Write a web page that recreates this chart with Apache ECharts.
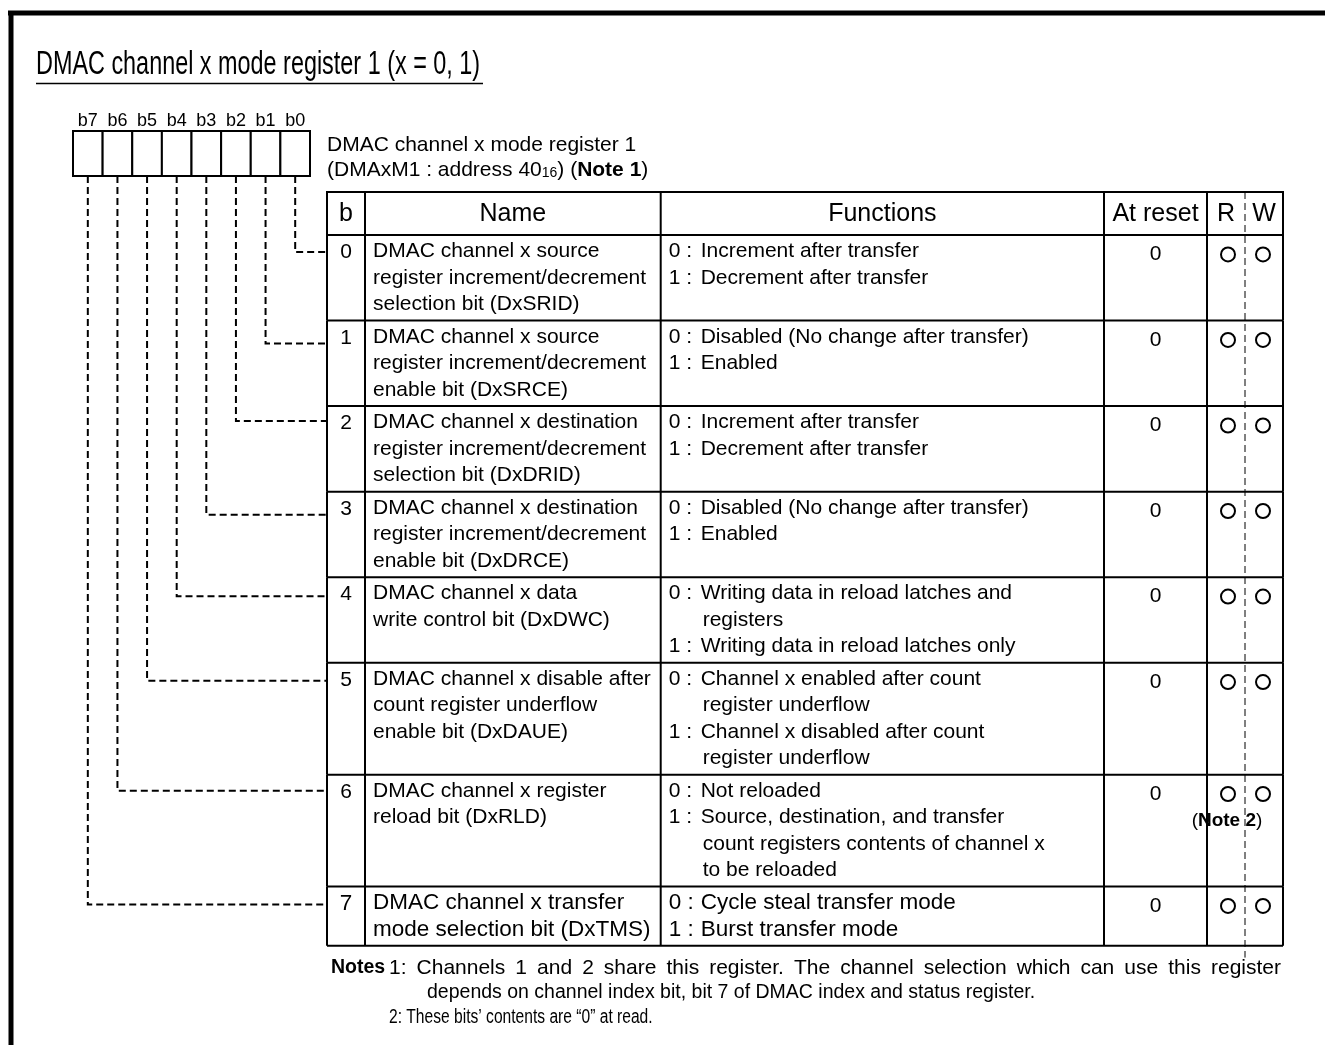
<!DOCTYPE html>
<html><head><meta charset="utf-8">
<script src="https://cdn.jsdelivr.net/npm/echarts@6/dist/echarts.min.js"></script>
<style>html,body{margin:0;padding:0;background:#fff}#c{width:1325px;height:1045px}</style>
</head><body><div id="c"></div>
<script>
// ---------------- data ----------------
const titleText = 'DMAC channel x mode register 1 (x = 0, 1)';
const captionLine1 = 'DMAC channel x mode register 1';
const captionLine2 = '(DMAxM1 : address 40{sub|16}) ({b|Note 1})';
const bitLabels = ['b7', 'b6', 'b5', 'b4', 'b3', 'b2', 'b1', 'b0'];
const headers = ['b', 'Name', 'Functions', 'At reset', 'R', 'W'];
const bitNumbers = [0, 1, 2, 3, 4, 5, 6, 7];
const names = [
  ['DMAC channel x source', 'register increment/decrement', 'selection bit (DxSRID)'],
  ['DMAC channel x source', 'register increment/decrement', 'enable bit (DxSRCE)'],
  ['DMAC channel x destination', 'register increment/decrement', 'selection bit (DxDRID)'],
  ['DMAC channel x destination', 'register increment/decrement', 'enable bit (DxDRCE)'],
  ['DMAC channel x data', 'write control bit (DxDWC)'],
  ['DMAC channel x disable after', 'count register underflow', 'enable bit (DxDAUE)'],
  ['DMAC channel x register', 'reload bit (DxRLD)'],
  ['DMAC channel x transfer', 'mode selection bit (DxTMS)']
];
const functions = [
  ['0 : Increment after transfer', '1 : Decrement after transfer'],
  ['0 : Disabled (No change after transfer)', '1 : Enabled'],
  ['0 : Increment after transfer', '1 : Decrement after transfer'],
  ['0 : Disabled (No change after transfer)', '1 : Enabled'],
  ['0 : Writing data in reload latches and', 'registers', '1 : Writing data in reload latches only'],
  ['0 : Channel x enabled after count', 'register underflow', '1 : Channel x disabled after count', 'register underflow'],
  ['0 : Not reloaded', '1 : Source, destination, and transfer', 'count registers contents of channel x', 'to be reloaded'],
  ['0 : Cycle steal transfer mode', '1 : Burst transfer mode']
];
const resetValues = ['0', '0', '0', '0', '0', '0', '0', '0'];
const readable = [true, true, true, true, true, true, true, true];
const writable = [true, true, true, true, true, true, true, true];
const rowNotes = ['', '', '', '', '', '', '({b|Note 2})', ''];
const noteLabel = 'Notes';
const noteLines = [
  '1: Channels 1 and 2 share this register. The channel selection which can use this register',
  'depends on channel index bit, bit 7 of DMAC index and status register.',
  '2: These bits\u2019 contents are \u201C0\u201D at read.'
];

// ---------------- layout / style ----------------
const FONT = '"Liberation Sans", Arial, sans-serif';
const LINE = 26.4;            // px per text line (one y unit of the table axis)
const ROW_PAD = 0.24;         // extra units per row
const HEADER_UNITS = 1.63;
const COLS = [0, 38, 333.7, 777, 880, 956];  // solid column edges (x units of table axis)
const RW_SPLIT = 918;
const BODY_SIZE = [21, 21, 21, 21, 21, 21, 21, 22.5];
const CONNECTOR_DROP = [17, 23, 15, 23, 19, 18, 16, 18]; // px below row top
const NOTE_FONT = '19.5px ' + FONT;

const rowLines = names.map((n, i) => Math.max(n.length, functions[i].length));
const rowSpan = rowLines.map(l => l + ROW_PAD);
const rowStart = [];
rowSpan.reduce((acc, s, i) => { rowStart[i] = acc; return acc + s; }, 0);
const totalUnits = rowSpan.reduce((a, b) => a + b, 0);

function txt(x, y, text, font, align, extra) {
  return Object.assign({
    type: 'text',
    style: { text: text, x: x, y: y, font: font, fill: '#000', textAlign: align || 'left', textVerticalAlign: 'middle' }
  }, extra || {});
}

function renderHeader(params, api) {
  const y0 = -HEADER_UNITS, y1 = 0, ym = (y0 + y1) / 2;
  const ch = [];
  const tl = api.coord([COLS[0], y0]), br = api.coord([COLS[COLS.length - 1], y1]);
  ch.push({ type: 'rect', shape: { x: tl[0], y: tl[1], width: br[0] - tl[0], height: br[1] - tl[1] }, style: { fill: null, stroke: '#000', lineWidth: 2 } });
  for (let c = 1; c < COLS.length - 1; c++) {
    const a = api.coord([COLS[c], y0]), b = api.coord([COLS[c], y1]);
    ch.push({ type: 'line', shape: { x1: a[0], y1: a[1], x2: b[0], y2: b[1] }, style: { stroke: '#000', lineWidth: 2 } });
  }
  const da = api.coord([RW_SPLIT, y0]), db = api.coord([RW_SPLIT, totalUnits + 0.45]);
  ch.push({ type: 'line', shape: { x1: da[0], y1: da[1], x2: db[0], y2: db[1] }, style: { stroke: '#000', lineWidth: 1, lineDash: [7, 4] } });
  const centers = [(COLS[0] + COLS[1]) / 2, (COLS[1] + COLS[2]) / 2, (COLS[2] + COLS[3]) / 2, (COLS[3] + COLS[4]) / 2, (COLS[4] + RW_SPLIT) / 2, (RW_SPLIT + COLS[5]) / 2];
  headers.forEach((h, k) => {
    const p = api.coord([centers[k], ym]);
    ch.push(txt(p[0], p[1] + 1, h, '25px ' + FONT, 'center'));
  });
  return { type: 'group', children: ch };
}

function renderRow(params, api) {
  const i = api.value(0);
  const top = rowStart[i], bot = rowStart[i] + rowSpan[i];
  const BODY = BODY_SIZE[i] + 'px ' + FONT;
  const ch = [];
  const lineY = k => top + ROW_PAD / 2 + k + 0.5;
  const bl = api.coord([COLS[0], bot]), br = api.coord([COLS[COLS.length - 1], bot]);
  ch.push({ type: 'line', shape: { x1: bl[0], y1: bl[1], x2: br[0], y2: br[1] }, style: { stroke: '#000', lineWidth: 2 } });
  COLS.forEach(cx => {
    const a = api.coord([cx, top]), b = api.coord([cx, bot]);
    ch.push({ type: 'line', shape: { x1: a[0], y1: a[1], x2: b[0], y2: b[1] }, style: { stroke: '#000', lineWidth: 2 } });
  });
  let p = api.coord([(COLS[0] + COLS[1]) / 2, lineY(0)]);
  ch.push(txt(p[0], p[1] + 1, String(bitNumbers[i]), BODY, 'center'));
  names[i].forEach((s, k) => {
    const q = api.coord([COLS[1] + 8, lineY(k)]);
    ch.push(txt(q[0], q[1], s, BODY, 'left'));
  });
  functions[i].forEach((s, k) => {
    const m = s.match(/^(\d) : (.*)$/);
    if (m) {
      const a = api.coord([COLS[2] + 8, lineY(k)]);
      ch.push(txt(a[0], a[1], m[1] + ' :', BODY, 'left'));
      const b = api.coord([COLS[2] + 40, lineY(k)]);
      ch.push(txt(b[0], b[1], m[2], BODY, 'left'));
    } else {
      const b = api.coord([COLS[2] + 42, lineY(k)]);
      ch.push(txt(b[0], b[1], s, BODY, 'left'));
    }
  });
  p = api.coord([(COLS[3] + COLS[4]) / 2, lineY(0)]);
  ch.push(txt(p[0], p[1] + 3, resetValues[i], '21px ' + FONT, 'center'));
  const rc = api.coord([COLS[4] + 21, lineY(0)]);
  const wc = api.coord([RW_SPLIT + 18, lineY(0)]);
  if (readable[i]) ch.push({ type: 'circle', shape: { cx: rc[0], cy: rc[1] + 3, r: 7 }, style: { fill: null, stroke: '#000', lineWidth: 2 } });
  if (writable[i]) ch.push({ type: 'circle', shape: { cx: wc[0], cy: wc[1] + 3, r: 7 }, style: { fill: null, stroke: '#000', lineWidth: 2 } });
  if (rowNotes[i]) {
    const n = api.coord([(COLS[4] + RW_SPLIT) / 2 + 1, lineY(1)]);
    ch.push({ type: 'text', z2: 5, style: { text: rowNotes[i], x: n[0], y: n[1] + 3, font: '19px ' + FONT, fill: '#000', textAlign: 'center', textVerticalAlign: 'middle',
      rich: { b: { fontWeight: 'bold', fontSize: 19, fontFamily: FONT } } } });
  }
  return { type: 'group', children: ch };
}

function renderBox(params, api) {
  const idx = api.value(0);
  const b = api.coord([idx, 0]), t = api.coord([idx, 1]);
  const w = api.size([1, 0])[0];
  return { type: 'rect', shape: { x: b[0] - w / 2, y: t[1], width: w, height: b[1] - t[1] }, style: { fill: '#fff', stroke: '#000', lineWidth: 2 } };
}

// justified first note line: words spread between the two edges
const measureCtx = document.createElement('canvas').getContext('2d');
function justified(text, font, x0, x1, y) {
  measureCtx.font = font;
  const words = text.split(' ');
  const widths = words.map(w => measureCtx.measureText(w).width);
  const gap = (x1 - x0 - widths.reduce((a, b) => a + b, 0)) / (words.length - 1);
  let x = x0;
  return words.map((w, k) => {
    const el = { type: 'text', x: x, y: y, style: { text: w, font: font, fill: '#000', textVerticalAlign: 'middle' } };
    x += widths[k] + gap;
    return el;
  });
}

const chart = echarts.init(document.getElementById('c'), null, { renderer: 'canvas' });
const option = {
  animation: false,
  backgroundColor: '#fff',
  textStyle: { fontFamily: FONT },
  grid: [
    { left: 73, top: 131, width: 237, height: 45 },
    { left: 327, top: 192, width: COLS[COLS.length - 1], height: (HEADER_UNITS + totalUnits) * LINE }
  ],
  xAxis: [
    { gridIndex: 0, type: 'category', data: bitLabels, position: 'top', boundaryGap: true,
      axisLine: { show: false }, axisTick: { show: false }, splitLine: { show: false },
      axisLabel: { color: '#000', fontSize: 18, margin: 1, fontFamily: FONT } },
    { gridIndex: 1, type: 'value', min: 0, max: COLS[COLS.length - 1], show: false, splitLine: { show: false } }
  ],
  yAxis: [
    { gridIndex: 0, type: 'value', min: 0, max: 1, show: false, splitLine: { show: false } },
    { gridIndex: 1, type: 'value', min: -HEADER_UNITS, max: totalUnits, inverse: true, show: false, splitLine: { show: false } }
  ],
  series: [
    { id: 'box', type: 'custom', xAxisIndex: 0, yAxisIndex: 0, renderItem: renderBox,
      data: bitLabels.map((b, i) => [i, 1]), encode: { x: 0, y: 1 }, silent: true, clip: false },
    { id: 'header', type: 'custom', xAxisIndex: 1, yAxisIndex: 1, renderItem: renderHeader,
      data: [[0, 0]], encode: { x: 0, y: 1 }, silent: true, clip: false },
    { id: 'rows', type: 'custom', xAxisIndex: 1, yAxisIndex: 1, renderItem: renderRow,
      data: bitNumbers.map(b => [b, 0]), encode: { x: -1, y: -1 }, silent: true, clip: false }
  ],
  graphic: [
    { type: 'line', shape: { x1: 8, y1: 13, x2: 1325, y2: 13 }, style: { stroke: '#000', lineWidth: 5 } },
    { type: 'line', shape: { x1: 11, y1: 11, x2: 11, y2: 1045 }, style: { stroke: '#000', lineWidth: 5 } },
    { type: 'text', x: 36, y: 65, scaleX: 0.78, scaleY: 1.08, style: { text: titleText, font: '30px ' + FONT, fill: '#000', textVerticalAlign: 'middle' } },
    { type: 'line', shape: { x1: 36, y1: 83.5, x2: 483, y2: 83.5 }, style: { stroke: '#000', lineWidth: 1.5 } },
    { type: 'text', x: 327, y: 145, style: { text: captionLine1, font: '21px ' + FONT, fill: '#000', textVerticalAlign: 'middle' } },
    { type: 'text', x: 327, y: 170, style: { text: captionLine2, font: '21px ' + FONT, fill: '#000', textVerticalAlign: 'middle',
      rich: { sub: { fontSize: 14, fontFamily: FONT, verticalAlign: 'bottom', padding: [6, 0, 0, 0] }, b: { fontWeight: 'bold', fontSize: 21, fontFamily: FONT } } } },
    { type: 'text', x: 331, y: 968, style: { text: noteLabel, font: 'bold 19.5px ' + FONT, fill: '#000', textVerticalAlign: 'middle' } }
  ].concat(justified(noteLines[0], '21px ' + FONT, 389, 1281, 968)).concat([
    { type: 'text', x: 427, y: 993, style: { text: noteLines[1], font: NOTE_FONT, fill: '#000', textVerticalAlign: 'middle' } },
    { type: 'text', x: 389, y: 1017, scaleX: 0.78, style: { text: noteLines[2], font: '20px ' + FONT, fill: '#000', textVerticalAlign: 'middle' } }
  ])
};
chart.setOption(option);

// connectors: from each register bit cell down to its table row
const boxCenters = bitLabels.map(b => chart.convertToPixel({ xAxisIndex: 0 }, b));
const boxBottom = chart.convertToPixel({ yAxisIndex: 0 }, 0);
chart.setOption({
  series: [{
    id: 'connectors', type: 'custom', xAxisIndex: 1, yAxisIndex: 1, silent: true, clip: false, z: 1,
    data: bitNumbers.map(b => [0, rowStart[b] + CONNECTOR_DROP[b] / LINE, b]), encode: { x: 0, y: 1 },
    renderItem: function (params, api) {
      const b = api.value(2);
      const end = api.coord([api.value(0), api.value(1)]);
      const sx = boxCenters[bitLabels.indexOf('b' + b)];
      return { type: 'polyline', shape: { points: [[sx, boxBottom], [sx, end[1]], [end[0], end[1]]] },
        style: { fill: null, stroke: '#000', lineWidth: 2, lineDash: [7, 4] } };
    }
  }]
});
</script>
</body></html>
